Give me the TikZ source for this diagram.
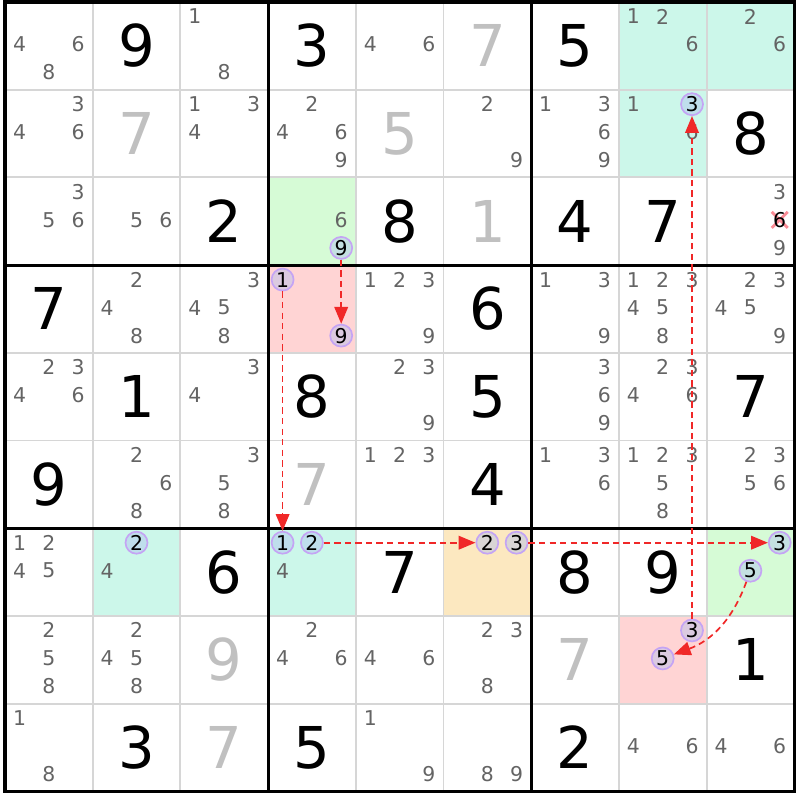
\documentclass[tikz,border=0pt]{standalone}
\usepackage{fontspec}
\setmainfont{DejaVu Sans}
\usetikzlibrary{arrows.meta, calc}
\definecolor{candgray}{RGB}{100,100,100}
\definecolor{solvedgray}{RGB}{192,192,192}
\definecolor{gridgray}{RGB}{214,214,214}
\definecolor{bgcyan}{RGB}{204,247,234}
\definecolor{bggreen}{RGB}{214,251,214}
\definecolor{bgred}{RGB}{255,212,212}
\definecolor{bgorange}{RGB}{252,232,192}
\definecolor{ringline}{RGB}{196,164,244}
\definecolor{ringfill}{RGB}{176,192,240}
\definecolor{linkred}{RGB}{240,40,40}
\definecolor{strikered}{RGB}{250,140,150}
\tikzset{%
	given/.style={font=\fontsize{41}{41}\selectfont, inner sep=0pt},
	solved/.style={given, text=solvedgray},
	cand/.style={font=\fontsize{14.5}{14.5}\selectfont, text=candgray, inner sep=0pt},
	ring/.style={circle, draw=ringline, line width=1.2pt, fill=ringfill, fill opacity=0.45,%
		text opacity=1, minimum size=5.5mm, inner sep=0pt, font=\fontsize{14.5}{14.5}\selectfont},
	thin grid/.style={draw=gridgray, line width=1.3pt},
	box line/.style={draw=black, line width=2.2pt},
	link/.style={draw=linkred, line width=1.2pt, dash pattern=on 4.5pt off 3pt,%
		-{Triangle[length=4.2mm, width=3.4mm]}},
	strike/.style={draw=strikered, line width=2pt},
	in cell/.style 2 args={at={({5+87.7*(#2-0.5)}, {2+87.7*(#1-0.5)})}},
	in cand/.style n args={3}{at={({5+87.7*(#2-1)+14.5+29.3*mod(#3-1,3)},%
		{2+87.7*(#1-1)+14.5+28*floor((#3-1)/3)})}}
}
\begin{document}
\begin{tikzpicture}[x=0.025cm, y=-0.025cm]
	\useasboundingbox (0,0) rectangle (800,800);

	% coloured cells
	\foreach \r/\c/\col in {1/8/bgcyan, 1/9/bgcyan, 2/8/bgcyan, 7/2/bgcyan, 7/4/bgcyan,
		3/4/bggreen, 7/9/bggreen, 4/4/bgred, 8/8/bgred, 7/6/bgorange}
		\fill[\col] ({5+87.7*(\c-1)}, {2+87.7*(\r-1)}) rectangle ++(87.7,87.7);

	% grid
	\foreach \i in {1,2,4,5,7,8} {
		\draw[thin grid] ({5+87.7*\i}, 2) -- ({5+87.7*\i}, 791.3);
		\draw[thin grid] (5, {2+87.7*\i}) -- (794.3, {2+87.7*\i});
	}
	\foreach \i in {3,6} {
		\draw[box line] ({5+87.7*\i}, 2) -- ({5+87.7*\i}, 791.3);
		\draw[box line] (5, {2+87.7*\i}) -- (794.3, {2+87.7*\i});
	}
	\draw[box line] (5,2) rectangle (794.3,791.3);

	% givens and solved cells
	\foreach \r/\c/\d in {1/2/9, 1/4/3, 1/7/5, 2/9/8, 3/3/2, 3/5/8, 3/7/4, 3/8/7,
		4/1/7, 4/6/6, 5/2/1, 5/4/8, 5/6/5, 5/9/7, 6/1/9, 6/6/4,
		7/3/6, 7/5/7, 7/7/8, 7/8/9, 8/9/1, 9/2/3, 9/4/5, 9/7/2}
		\node[given, in cell={\r}{\c}] (g\r\c) {\d};
	\foreach \r/\c/\d in {1/6/7, 2/2/7, 2/5/5, 3/6/1, 6/4/7, 8/3/9, 8/7/7, 9/3/7}
		\node[solved, in cell={\r}{\c}] (g\r\c) {\d};

	% candidates
	\foreach \r/\c/\l in {1/1/{4,6,8}, 1/3/{1,8}, 1/5/{4,6}, 1/8/{1,2,6}, 1/9/{2,6},
		2/1/{3,4,6}, 2/3/{1,3,4}, 2/4/{2,4,6,9}, 2/6/{2,9}, 2/7/{1,3,6,9}, 2/8/{1,6},
		3/1/{3,5,6}, 3/2/{5,6}, 3/4/{6}, 3/9/{3,9},
		4/2/{2,4,8}, 4/3/{3,4,5,8}, 4/5/{1,2,3,9}, 4/7/{1,3,9}, 4/8/{1,2,3,4,5,8}, 4/9/{2,3,4,5,9},
		5/1/{2,3,4,6}, 5/3/{3,4}, 5/5/{2,3,9}, 5/7/{3,6,9}, 5/8/{2,3,4,6},
		6/2/{2,6,8}, 6/3/{3,5,8}, 6/5/{1,2,3}, 6/7/{1,3,6}, 6/8/{1,2,3,5,8}, 6/9/{2,3,5,6},
		7/1/{1,2,4,5}, 7/2/{4}, 7/4/{4},
		8/1/{2,5,8}, 8/2/{2,4,5,8}, 8/4/{2,4,6}, 8/5/{4,6}, 8/6/{2,3,8},
		9/1/{1,8}, 9/5/{1,9}, 9/6/{8,9}, 9/8/{4,6}, 9/9/{4,6}}
		\foreach \d in \l
			\node[cand, in cand={\r}{\c}{\d}] (p\r\c\d) {\d};

	% eliminated candidate
	\coordinate[in cand={3}{9}{6}] (x396);
	\draw[strike] ($(x396)+(-8,-8)$) -- ($(x396)+(8,8)$);
	\draw[strike] ($(x396)+(-8,8)$) -- ($(x396)+(8,-8)$);
	\node[cand, text=black] (p396) at (x396) {6};

	% chain candidates
	\foreach \r/\c/\d in {2/8/3, 3/4/9, 4/4/1, 4/4/9, 7/2/2, 7/4/1, 7/4/2,
		7/6/2, 7/6/3, 7/9/3, 7/9/5, 8/8/3, 8/8/5}
		\node[ring, in cand={\r}{\c}{\d}] (k\r\c\d) {\d};

	% links
	\draw[link] (k349) -- (k449);
	\draw[link] (k441) -- (k741);
	\draw[link] (k742) -- (k762);
	\draw[link] (k763) -- (k793);
	\draw[link] (k795) to[bend left=25] (k885);
	\draw[link] (k883) -- (k283);
\end{tikzpicture}
\end{document}
